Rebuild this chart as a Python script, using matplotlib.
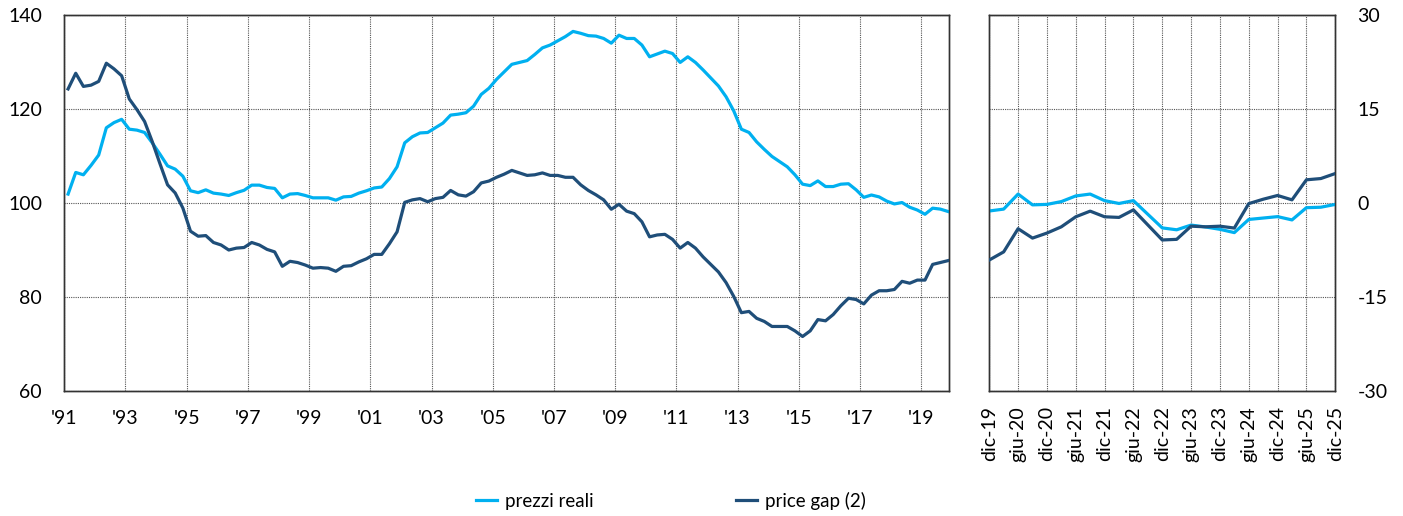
import matplotlib
matplotlib.use("Agg")
import matplotlib.pyplot as plt
from matplotlib.lines import Line2D
import numpy as np

plt.rcParams['font.family'] = ['Lato', 'DejaVu Sans']

# ---- data: quarterly 1991Q1-2019Q4 ----
start_year = 1991
prezzi_reali = [
    101.9, 106.5, 106.0, 108.0, 110.2, 116.0, 117.1, 117.8, 115.7, 115.5,
    115.0, 112.8, 110.4, 107.9, 107.2, 105.7, 102.6, 102.2, 102.8, 102.1,
    101.9, 101.6, 102.2, 102.7, 103.8, 103.8, 103.3, 103.1, 101.1, 101.9,
    102.0, 101.6, 101.1, 101.1, 101.1, 100.6, 101.3, 101.4, 102.1, 102.6,
    103.2, 103.4, 105.2, 107.7, 112.8, 114.1, 114.9, 115.0, 116.0, 117.0,
    118.7, 118.9, 119.2, 120.6, 123.1, 124.4, 126.3, 127.9, 129.5, 129.9,
    130.3, 131.6, 133.0, 133.6, 134.5, 135.4, 136.5, 136.1, 135.6, 135.5,
    135.0, 134.0, 135.7, 135.0, 135.0, 133.6, 131.1, 131.7, 132.3, 131.8,
    129.9, 131.1, 129.9, 128.3, 126.6, 124.9, 122.6, 119.6, 115.7, 115.0,
    113.0, 111.4, 109.9, 108.8, 107.7, 106.0, 104.0, 103.7, 104.7, 103.5,
    103.5, 104.0, 104.1, 102.8, 101.2, 101.7, 101.3, 100.4, 99.8, 100.1,
    99.1, 98.5, 97.6, 98.9, 98.7, 98.2,
]
price_gap = [
    18.2, 20.7, 18.6, 18.8, 19.4, 22.3, 21.4, 20.3, 16.6, 14.9,
    13.0, 9.8, 6.3, 2.9, 1.6, -0.8, -4.5, -5.3, -5.2, -6.3,
    -6.7, -7.5, -7.2, -7.1, -6.3, -6.7, -7.4, -7.8, -10.1, -9.3,
    -9.5, -9.9, -10.4, -10.3, -10.4, -10.9, -10.1, -10.0, -9.4, -8.9,
    -8.2, -8.2, -6.5, -4.6, 0.1, 0.5, 0.7, 0.2, 0.7, 0.9,
    2.0, 1.3, 1.1, 1.8, 3.2, 3.5, 4.1, 4.6, 5.2, 4.8,
    4.4, 4.5, 4.8, 4.4, 4.4, 4.1, 4.1, 2.9, 2.0, 1.3,
    0.5, -1.0, -0.2, -1.3, -1.7, -3.0, -5.4, -5.1, -5.0, -5.8,
    -7.2, -6.3, -7.2, -8.6, -9.8, -11.0, -12.7, -14.9, -17.5, -17.3,
    -18.4, -18.9, -19.7, -19.7, -19.7, -20.4, -21.3, -20.4, -18.6, -18.8,
    -17.8, -16.4, -15.2, -15.4, -16.1, -14.7, -14.0, -14.0, -13.8, -12.5,
    -12.8, -12.3, -12.3, -9.8, -9.5, -9.2,
]
left_ticklabels = ["'91", "'93", "'95", "'97", "'99", "'01", "'03", "'05",
                   "'07", "'09", "'11", "'13", "'15", "'17", "'19"]

# ---- data: quarterly dic-19 .. dic-25 ----
prezzi_reali_recent = [
    98.3, 98.7, 101.9, 99.6, 99.7, 100.3, 101.5, 101.9, 100.5, 99.9,
    100.5, 97.6, 94.7, 94.3, 95.3, 94.9, 94.4, 93.7, 96.5, 96.8,
    97.1, 96.4, 99.0, 99.1, 99.7,
]
price_gap_recent = [
    -9.1, -7.8, -4.1, -5.6, -4.8, -3.8, -2.2, -1.3, -2.2, -2.3,
    -1.1, -3.5, -5.9, -5.8, -3.7, -3.8, -3.7, -4.0, -0.1, 0.6,
    1.2, 0.5, 3.7, 3.9, 4.7,
]
right_ticklabels = ["dic-19", "giu-20", "dic-20", "giu-21", "dic-21", "giu-22",
                    "dic-22", "giu-23", "dic-23", "giu-24", "dic-24", "giu-25",
                    "dic-25"]

LIGHT = '#00b0f0'
DARK = '#1f4e79'
LW = 2.3
FS = 14

fig = plt.figure(figsize=(14.03, 5.16), dpi=100)
axL = fig.add_axes([0.0458, 0.2422, 0.6304, 0.7288])
axR = fig.add_axes([0.7051, 0.2422, 0.2466, 0.7288])

# left panel
xq = start_year + 0.125 + 0.25 * np.arange(len(prezzi_reali))
axL.plot(xq, prezzi_reali, color=LIGHT, lw=LW, zorder=3)
axL.set_ylim(60, 140)
axL.set_xlim(start_year, 2019.9)
axL.set_yticks([60, 80, 100, 120, 140])
axL.set_xticks(start_year + 2 * np.arange(len(left_ticklabels)))
axL.set_xticklabels(left_ticklabels)
axL.grid(True, color='#555555', linestyle=(0, (1, 1)), linewidth=0.8)
axL.tick_params(length=0, labelsize=FS)
axL.tick_params(axis='y', pad=16)
axL.tick_params(axis='x', pad=14)
axL2 = axL.twinx()
axL2.plot(xq, price_gap, color=DARK, lw=LW, zorder=4)
axL2.set_ylim(-30, 30)
axL2.set_yticks([])
for ax in (axL, axL2):
    for s in ax.spines.values():
        s.set_color('#333333')
        s.set_linewidth(1.0)

# right panel
xr = np.arange(len(prezzi_reali_recent))
axR.plot(xr, prezzi_reali_recent, color=LIGHT, lw=LW, zorder=3)
axR.set_ylim(60, 140)
axR.set_xlim(0, len(xr) - 1)
axR.set_yticks([60, 80, 100, 120, 140])
axR.set_yticklabels([])
axR.set_xticks(np.arange(0, len(xr), 2))
axR.set_xticklabels(right_ticklabels, rotation=90)
axR.grid(True, color='#555555', linestyle=(0, (1, 1)), linewidth=0.8)
axR.tick_params(length=0, labelsize=FS, pad=11)
axR2 = axR.twinx()
axR2.plot(xr, price_gap_recent, color=DARK, lw=LW, zorder=4)
axR2.set_ylim(-30, 30)
axR2.set_yticks([-30, -15, 0, 15, 30])
axR2.set_yticklabels(['-30', '-15', '0', '15', '30'])
axR2.tick_params(length=0, labelsize=FS, pad=16)
for ax in (axR, axR2):
    for s in ax.spines.values():
        s.set_color('#333333')
        s.set_linewidth(1.0)

handles = [Line2D([], [], color=LIGHT, lw=LW), Line2D([], [], color=DARK, lw=LW)]
fig.legend(handles, ['prezzi reali', 'price gap (2)'], loc='center',
           bbox_to_anchor=(0.478, 0.03), ncol=2, frameon=False, fontsize=13.5,
           handlelength=1.15, handletextpad=0.4, columnspacing=7.6)

fig.savefig('out.png', dpi=100)
